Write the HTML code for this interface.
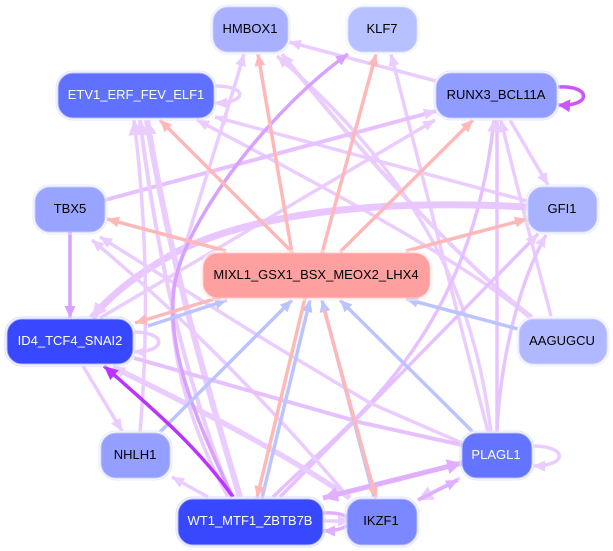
<!DOCTYPE html>
<html><head><meta charset="utf-8"><style>
html,body{margin:0;padding:0;background:#fff}
svg{display:block}
text{font-family:"Liberation Sans",sans-serif;font-size:13px;text-anchor:middle}
path{fill:none;stroke-linecap:butt}
</style></head><body>
<svg width="613" height="551" viewBox="0 0 613 551" xmlns="http://www.w3.org/2000/svg">
<defs>
<marker id="l" markerUnits="userSpaceOnUse" markerWidth="13" markerHeight="11" refX="12" refY="5.5" orient="auto"><path d="M0 0L12 5.5L0 11Z" style="fill:#ebccff;stroke:none"/></marker>
<marker id="L" markerUnits="userSpaceOnUse" markerWidth="16" markerHeight="15" refX="15" refY="7.5" orient="auto"><path d="M0 0L15 7.5L0 15Z" style="fill:#ebccff;stroke:none"/></marker>
<marker id="m" markerUnits="userSpaceOnUse" markerWidth="13" markerHeight="11" refX="12" refY="5.5" orient="auto"><path d="M0 0L12 5.5L0 11Z" style="fill:#e0b0ff;stroke:none"/></marker>
<marker id="M" markerUnits="userSpaceOnUse" markerWidth="16" markerHeight="15" refX="15" refY="7.5" orient="auto"><path d="M0 0L15 7.5L0 15Z" style="fill:#e0b0ff;stroke:none"/></marker>
<marker id="d" markerUnits="userSpaceOnUse" markerWidth="13" markerHeight="11" refX="12" refY="5.5" orient="auto"><path d="M0 0L12 5.5L0 11Z" style="fill:#d8a0ff;stroke:none"/></marker>
<marker id="p" markerUnits="userSpaceOnUse" markerWidth="15" markerHeight="13" refX="14" refY="6.5" orient="auto"><path d="M0 0L14 6.5L0 13Z" style="fill:#bb33ff;stroke:none"/></marker>
<marker id="r" markerUnits="userSpaceOnUse" markerWidth="13" markerHeight="13" refX="12" refY="6.5" orient="auto"><path d="M0 0L12 6.5L0 13Z" style="fill:#cc55ff;stroke:none"/></marker>
<marker id="s" markerUnits="userSpaceOnUse" markerWidth="13" markerHeight="11" refX="12" refY="5.5" orient="auto"><path d="M0 0L12 5.5L0 11Z" style="fill:#ffb8b8;stroke:none"/></marker>
<marker id="b" markerUnits="userSpaceOnUse" markerWidth="13" markerHeight="11" refX="12" refY="5.5" orient="auto"><path d="M0 0L12 5.5L0 11Z" style="fill:#bcc4ff;stroke:none"/></marker>
</defs>

<!-- light edges -->
<g stroke="#ebccff" stroke-width="3.5">
<path d="M436 81L289 42" marker-end="url(#l)"/>
<path d="M527 201L215 117" marker-end="url(#l)"/>
<path d="M530 318C470 265 330 190 197 120" marker-end="url(#l)"/>
<path d="M532 317C470 270 370 165 282 54" stroke-width="4" marker-end="url(#l)"/>
<path d="M491 432C478 330 445 200 277 56" marker-end="url(#l)"/>
<path d="M488 432L391 54" marker-end="url(#l)"/>
<path d="M551 316C535 255 515 180 501 120" marker-end="url(#l)"/>
<path d="M510 120L548 185" marker-end="url(#l)"/>
<path d="M497 432L497 120" stroke="#e8c4ff" marker-end="url(#l)"/>
<path d="M497 430C500 370 515 290 546 235" stroke="#e8c4ff" marker-end="url(#l)"/>
<path d="M273 497C345 425 470 345 494 120" stroke="#e6c0ff" marker-end="url(#l)"/>
<path d="M280 497L538 234" stroke="#e6c0ff" marker-end="url(#l)"/>
<path d="M100 318L435 120" marker-end="url(#l)"/>
<path d="M105 200L436 111" stroke="#e6c0ff" stroke-width="4" marker-end="url(#l)"/>
<path d="M527 207C400 200 270 208 180 250C140 272 110 295 92 318" stroke="#e9c6ff" stroke-width="7" marker-end="url(#L)"/>
<path d="M228 497C170 390 165 300 178 270C195 210 225 120 244 54" marker-end="url(#l)"/>
<path d="M240 497C205 380 170 260 147 120" stroke-width="6" marker-end="url(#L)"/>
<path d="M231 497C190 390 160 280 140 120" stroke-width="4" marker-end="url(#L)"/>
<path d="M140 432C148 340 148 230 134 120" stroke-width="3.5" marker-end="url(#L)"/>
<path d="M83 366L122 431" marker-end="url(#l)"/>
<path d="M208 497L172 477" marker-end="url(#l)"/>
<path d="M462 443L370 403L270 343L100 237" marker-end="url(#l)"/>
<path d="M348 497C300 440 200 330 92 240" marker-end="url(#l)"/>
<path d="M350 498C280 450 190 405 113 367" stroke-width="5.5" marker-end="url(#l)"/>
<path d="M134 358L363 423L462 445" stroke="#e6c0ff" stroke-width="4"/>
<path d="M215 86C248 86 248 103 215 103" stroke-width="3.5" marker-end="url(#l)"/>
<path d="M134 332C167 332 167 352 134 352" marker-end="url(#l)"/>
<path d="M533 446C568 446 568 466 533 466" marker-end="url(#l)"/>
<path d="M323 521L350 521" marker-end="url(#l)"/>
<path d="M460 478L418 500" marker-end="url(#L)"/>
</g>

<!-- medium purple -->
<g stroke="#e0b0ff" stroke-width="3.5">
<path d="M462 463L323 498" stroke-width="5" marker-end="url(#M)"/>
<path d="M323 498L462 463" stroke-width="5" marker-end="url(#M)"/>
<path d="M418 500L458 480" marker-end="url(#m)"/>
<path d="M323 513C358 511 358 531 323 531" marker-end="url(#m)"/>
</g>
<path d="M233 497C190 410 160 330 178 270C195 210 270 110 348 54" stroke="#d8a0ff" stroke-width="3.5" marker-end="url(#d)"/>
<path d="M70 232L70 318" stroke="#d8a0ff" stroke-width="3.5" marker-end="url(#d)"/>

<!-- blue -->
<g stroke="#bcc4ff" stroke-width="3.5">
<path d="M148 326L227 300" marker-end="url(#b)"/>
<path d="M160 432L292 300" marker-end="url(#b)"/>
<path d="M262 498L310 300" marker-end="url(#b)"/>
<path d="M374 497L322 300" marker-end="url(#b)"/>
<path d="M472 431L340 300" marker-end="url(#b)"/>
<path d="M518 329L406 299" marker-end="url(#b)"/>
</g>
<!-- salmon -->
<g stroke="#ffb8b8" stroke-width="3.5">
<path d="M292 253L258 54" marker-end="url(#s)"/>
<path d="M322 253L376 54" marker-end="url(#s)"/>
<path d="M292 252L160 120" marker-end="url(#s)"/>
<path d="M340 252L473 120" marker-end="url(#s)"/>
<path d="M226 251L107 219" marker-end="url(#s)"/>
<path d="M406 251L527 219" marker-end="url(#s)"/>
<path d="M224 296L135 323" marker-end="url(#s)"/>
<path d="M305 298L257 498" marker-end="url(#s)"/>
<path d="M324 309L376 498" marker-end="url(#s)"/>
</g>

<!-- dark -->
<path d="M233 497C200 450 160 415 104 366" stroke="#bb33ff" stroke-width="3.5" marker-end="url(#p)"/>
<path d="M558 87C592 85 592 107 558 105" stroke="#cc55ff" stroke-width="3.5" marker-end="url(#r)"/>

<!-- nodes -->
<g stroke-width="1">
<rect x="211" y="5" width="79" height="49" rx="17" fill="none" stroke="#e6e9ff"/><rect x="213" y="7" width="75" height="45" rx="15" fill="#a8b0ff" stroke="#c8ceff"/>
<rect x="346" y="5" width="73" height="49" rx="17" fill="none" stroke="#f0f2ff"/><rect x="348" y="7" width="69" height="45" rx="15" fill="#b8c1ff" stroke="#d4d9ff"/>
<rect x="56" y="71" width="160" height="49" rx="17" fill="none" stroke="#e0e4ff"/><rect x="58" y="73" width="156" height="45" rx="15" fill="#6070ff" stroke="#b8c0ff"/>
<rect x="434" y="71" width="125" height="49" rx="17" fill="none" stroke="#e0e4ff"/><rect x="436" y="73" width="121" height="45" rx="15" fill="#909cff" stroke="#c4caff"/>
<rect x="33" y="185" width="74" height="49" rx="17" fill="none" stroke="#e6e9ff"/><rect x="35" y="187" width="70" height="45" rx="15" fill="#98a4ff" stroke="#c4caff"/>
<rect x="526" y="185" width="73" height="49" rx="17" fill="none" stroke="#e6e9ff"/><rect x="528" y="187" width="69" height="45" rx="15" fill="#a8b2ff" stroke="#ccd1ff"/>
<rect x="201" y="251" width="231" height="49" rx="17" fill="none" stroke="#ffecec"/><rect x="203" y="253" width="227" height="45" rx="15" fill="#ffa0a0" stroke="#ffc8c8"/>
<rect x="5" y="317" width="130" height="49" rx="17" fill="none" stroke="#d8dcff"/><rect x="7" y="319" width="126" height="45" rx="15" fill="#3848ff" stroke="#b0b8ff"/>
<rect x="517" y="317" width="92" height="49" rx="17" fill="none" stroke="#eceeff"/><rect x="519" y="319" width="88" height="45" rx="15" fill="#b0b8ff" stroke="#d0d4ff"/>
<rect x="99" y="431" width="73" height="49" rx="17" fill="none" stroke="#e6e9ff"/><rect x="101" y="433" width="69" height="45" rx="15" fill="#949fff" stroke="#c4caff"/>
<rect x="460" y="431" width="74" height="49" rx="17" fill="none" stroke="#e0e4ff"/><rect x="462" y="433" width="70" height="45" rx="15" fill="#6474ff" stroke="#b8c0ff"/>
<rect x="176" y="497" width="149" height="50" rx="17" fill="none" stroke="#d8dcff"/><rect x="178" y="499" width="145" height="46" rx="15" fill="#3848ff" stroke="#b0b8ff"/>
<rect x="345" y="497" width="74" height="50" rx="17" fill="none" stroke="#e0e4ff"/><rect x="347" y="499" width="70" height="46" rx="15" fill="#7c88ff" stroke="#bcc3ff"/>
</g>
<text x="250" y="33" fill="#000">HMBOX1</text>
<text x="382" y="33" fill="#000">KLF7</text>
<text x="136" y="99" fill="#fff">ETV1_ERF_FEV_ELF1</text>
<text x="496" y="99" fill="#000">RUNX3_BCL11A</text>
<text x="70" y="213" fill="#000">TBX5</text>
<text x="562" y="213" fill="#000">GFI1</text>
<text x="316" y="279" fill="#000">MIXL1_GSX1_BSX_MEOX2_LHX4</text>
<text x="70" y="345" fill="#fff">ID4_TCF4_SNAI2</text>
<text x="562" y="345" fill="#000">AAGUGCU</text>
<text x="135" y="459" fill="#000">NHLH1</text>
<text x="496" y="459" fill="#fff">PLAGL1</text>
<text x="250" y="525" fill="#fff">WT1_MTF1_ZBTB7B</text>
<text x="381" y="525" fill="#000">IKZF1</text>
</svg>
</body></html>
